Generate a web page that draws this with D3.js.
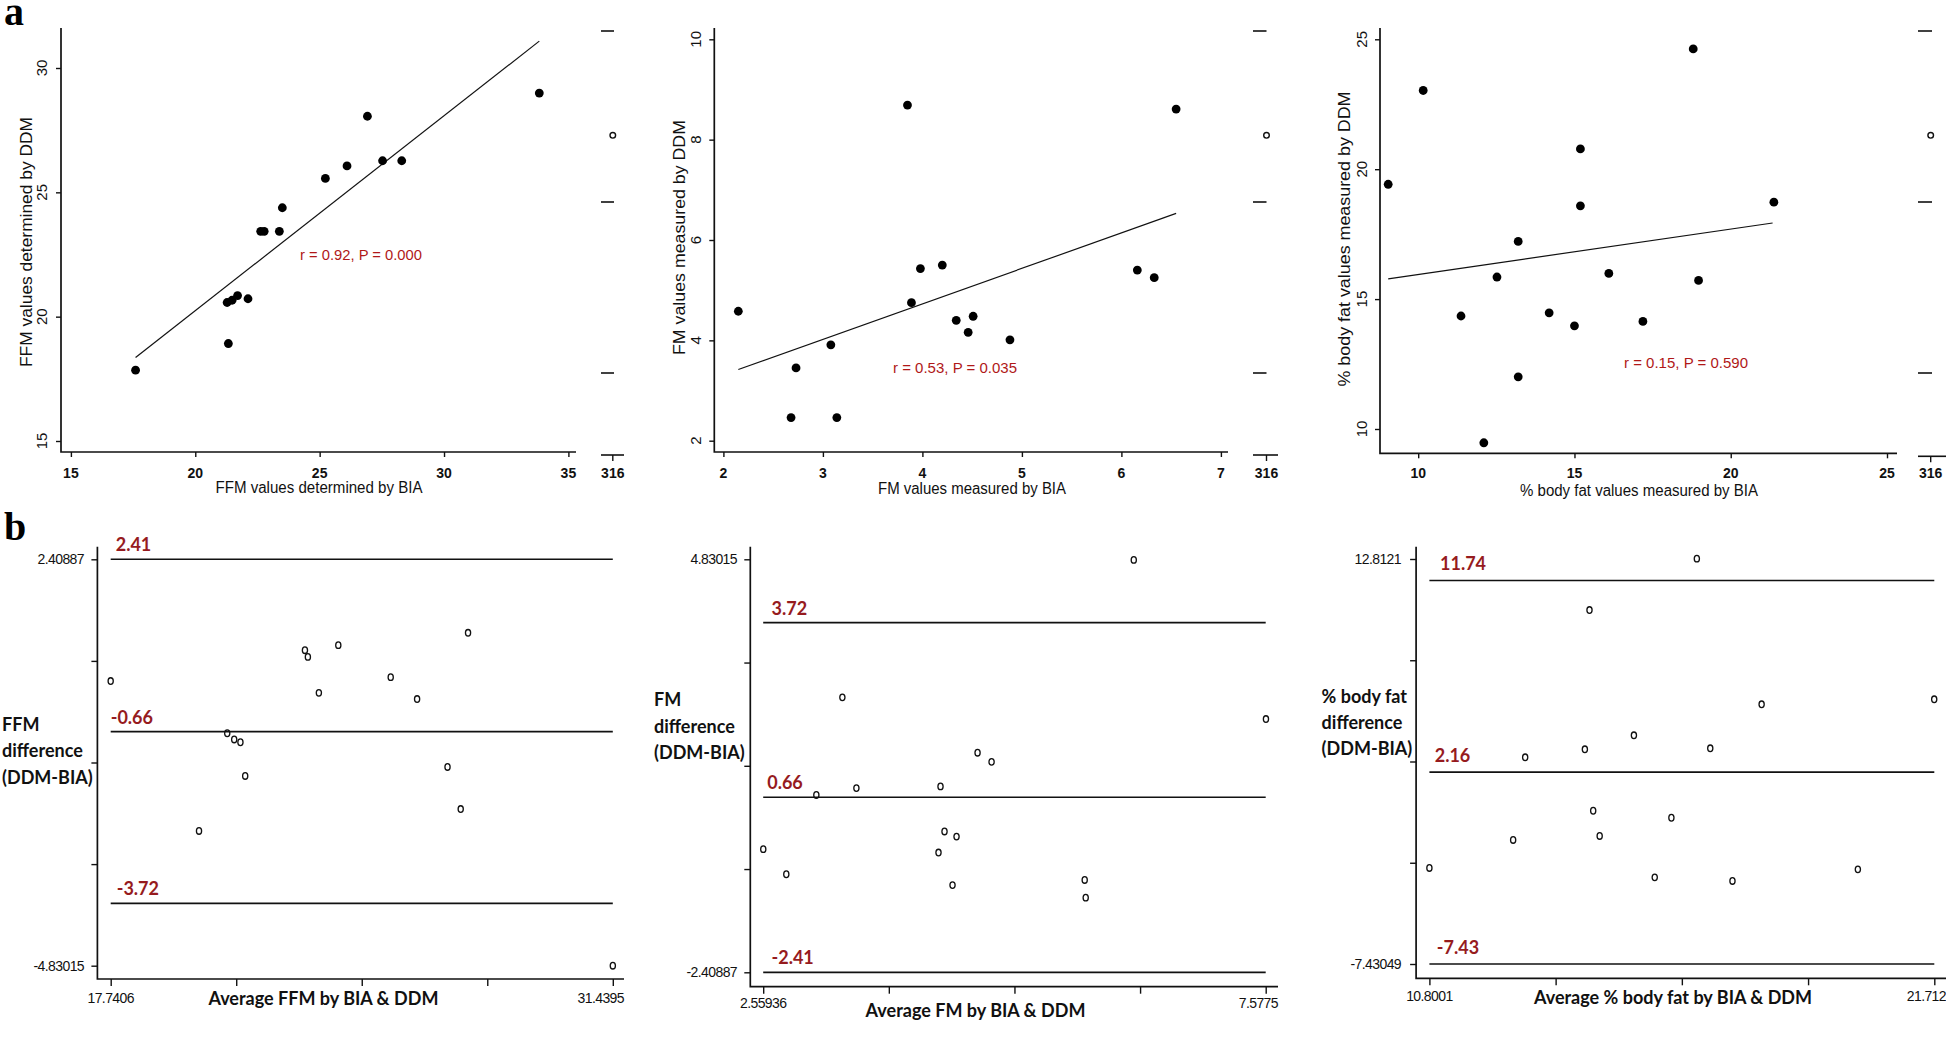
<!DOCTYPE html>
<html><head><meta charset="utf-8">
<script src="https://cdn.jsdelivr.net/npm/d3@7"></script>
<style>body{margin:0;background:#fff;} svg{display:block;}</style>
</head><body>
<svg id="chart" width="1946" height="1044"></svg>
<script>
// ---------------- DATA ----------------
// (a) correlation plots: BIA (x) vs DDM (y)
const ffmBIA = [17.6, 21.33, 21.28, 21.48, 21.7, 22.12, 22.63, 22.77, 23.38, 23.5, 25.23, 26.1, 26.92, 27.53, 28.3, 33.83];
const ffmDDM = [17.85, 18.92, 20.57, 20.66, 20.85, 20.72, 23.43, 23.43, 23.43, 24.38, 25.56, 26.06, 28.06, 26.27, 26.27, 28.99];
const ffmFit = [[17.6, 18.36], [33.83, 31.08]];
const ffmStat = "r = 0.92, P = 0.000";

const fmBIA = [2.15, 2.68, 2.73, 3.08, 3.14, 3.85, 3.89, 3.98, 4.2, 4.34, 4.46, 4.51, 4.88, 6.16, 6.33, 6.55];
const fmDDM = [4.58, 2.46, 3.45, 3.91, 2.46, 8.69, 4.75, 5.43, 5.5, 4.4, 4.16, 4.48, 4.01, 5.4, 5.25, 8.61];
const fmFit = [[2.15, 3.42], [6.55, 6.53]];
const fmStat = "r = 0.53, P = 0.035";

const bfBIA = [9.04, 10.16, 11.37, 12.1, 12.52, 13.2, 13.2, 14.19, 15.0, 15.19, 15.19, 16.1, 17.19, 18.8, 18.97, 21.38];
const bfDDM = [19.42, 23.03, 14.35, 9.47, 15.85, 17.22, 12.01, 14.47, 13.97, 20.78, 18.59, 15.99, 14.14, 24.63, 15.72, 18.73];
const bfFit = [[9.04, 15.78], [21.34, 17.93]];
const bfStat = "r = 0.15, P = 0.590";

const ffmXTicks = [15, 20, 25, 30, 35], ffmYTicks = [15, 20, 25, 30];
const fmXTicks = [2, 3, 4, 5, 6, 7], fmYTicks = [2, 4, 6, 8, 10];
const bfXTicks = [10, 15, 20, 25], bfYTicks = [10, 15, 20, 25];

// marginal strip at the right of each (a) panel
const stripTicks = [1, 2, 3];
const stripPoint = 2.39;
const stripLabel = "316";

// (b) Bland-Altman plots: average (x) vs difference DDM-BIA (y)
const ffmAvg = [17.74, 20.15, 20.92, 21.11, 21.28, 21.41, 23.04, 23.12, 23.42, 23.95, 25.38, 26.10, 26.93, 27.29, 27.49, 31.44];
const ffmDiff = [0.24, -2.43, -0.69, -0.80, -0.85, -1.45, 0.79, 0.67, 0.03, 0.88, 0.31, -0.08, -1.29, -2.04, 1.10, -4.83];
const ffmLimits = [2.41, -0.66, -3.72];
const ffmXRange = ["17.7406", "31.4395"], ffmYRange = ["2.40887", "-4.83015"];

const fmAvg = [2.56, 2.79, 3.09, 3.35, 3.49, 4.31, 4.33, 4.37, 4.45, 4.49, 4.70, 4.84, 5.77, 5.78, 6.26, 7.58];
const fmDiff = [-0.25, -0.69, 0.70, 2.41, 0.82, -0.31, 0.85, 0.06, -0.88, -0.03, 1.44, 1.28, -0.79, -1.10, 4.82, 2.03];
const fmLimits = [3.72, 0.66, -2.41];
const fmXRange = ["2.55936", "7.5775"], fmYRange = ["4.83015", "-2.40887"];

const bfAvg = [10.80, 12.61, 12.87, 14.16, 14.26, 14.34, 14.48, 15.22, 15.67, 16.03, 16.58, 16.87, 17.35, 17.98, 20.06, 21.71];
const bfDiff = [-2.63, -1.23, 2.90, 3.30, 10.26, 0.23, -1.03, 4.00, -3.10, -0.12, 12.83, 3.35, -3.28, 5.55, -2.70, 5.80];
const bfLimits = [11.74, 2.16, -7.43];
const bfXRange = ["10.8001", "21.712"], bfYRange = ["12.8121", "-7.43049"];

// ---------------- DRAWING ----------------
const svg = d3.select('#chart');
const SANS = "'Liberation Sans', Arial, sans-serif";
const CAL = "Lato, 'Open Sans', sans-serif";
const INK = "#111";

function styleAxis(s) {
  s.select('.domain').remove();
  s.selectAll('.tick line').attr('stroke', INK).attr('stroke-width', 1.4);
  s.selectAll('.tick text').remove();
}

function drawTop(c) {
  const g = svg.append('g');
  const x = d3.scaleLinear().domain([c.xTicks[0], c.xTicks[c.xTicks.length - 1]]).range(c.xPx);
  const y = d3.scaleLinear().domain([c.yTicks[0], c.yTicks[c.yTicks.length - 1]]).range(c.yPx);

  g.append('path').attr('d', `M${c.left},${c.top}V${c.bottom}H${c.right}`)
    .attr('fill', 'none').attr('stroke', INK).attr('stroke-width', 1.7);
  g.append('g').attr('transform', `translate(0,${c.bottom})`)
    .call(d3.axisBottom(x).tickValues(c.xTicks).tickSize(5)).call(styleAxis);
  g.append('g').attr('transform', `translate(${c.left},0)`)
    .call(d3.axisLeft(y).tickValues(c.yTicks).tickSize(5)).call(styleAxis);

  g.selectAll('text.xl').data(c.xTicks).join('text').attr('class', 'xl')
    .attr('x', d => x(d)).attr('y', c.xLabY)
    .attr('text-anchor', 'middle').attr('dominant-baseline', 'central')
    .style('font', `bold 14px ${SANS}`).attr('fill', INK).text(d => d);
  g.selectAll('text.yl').data(c.yTicks).join('text').attr('class', 'yl')
    .attr('transform', d => `translate(${c.yLabX},${y(d)}) rotate(-90)`)
    .attr('text-anchor', 'middle').attr('dominant-baseline', 'central')
    .style('font', `15px ${SANS}`).attr('fill', INK).text(d => d);

  g.append('text').attr('x', c.xTitle[0]).attr('y', c.xTitle[1])
    .attr('text-anchor', 'middle').attr('dominant-baseline', 'central')
    .attr('textLength', c.xTitleLen).attr('lengthAdjust', 'spacingAndGlyphs')
    .style('font', `16px ${SANS}`).attr('fill', INK).text(c.xTitleText);
  g.append('text').attr('transform', `translate(${c.yTitle[0]},${c.yTitle[1]}) rotate(-90)`)
    .attr('text-anchor', 'middle').attr('dominant-baseline', 'central')
    .attr('textLength', c.yTitleLen).attr('lengthAdjust', 'spacingAndGlyphs')
    .style('font', `16px ${SANS}`).attr('fill', INK).text(c.yTitleText);

  g.append('line')
    .attr('x1', x(c.fit[0][0])).attr('y1', y(c.fit[0][1]))
    .attr('x2', x(c.fit[1][0])).attr('y2', y(c.fit[1][1]))
    .attr('stroke', INK).attr('stroke-width', 1.2);

  g.selectAll('circle.pt').data(d3.zip(c.xs, c.ys)).join('circle').attr('class', 'pt')
    .attr('cx', d => x(d[0])).attr('cy', d => y(d[1])).attr('r', 4.4).attr('fill', '#000');

  g.append('text').attr('x', c.statPos[0]).attr('y', c.statPos[1])
    .attr('text-anchor', 'middle').attr('dominant-baseline', 'central')
    .attr('textLength', c.statLen).attr('lengthAdjust', 'spacingAndGlyphs')
    .style('font', `15px ${SANS}`).attr('fill', '#b01818').text(c.stat);

  // marginal strip
  const sy = d3.scaleLinear().domain([1, 3]).range([373, 31]);
  g.selectAll('line.st').data(stripTicks).join('line').attr('class', 'st')
    .attr('x1', c.strip[0]).attr('x2', c.strip[1])
    .attr('y1', d => sy(d)).attr('y2', d => sy(d))
    .attr('stroke', INK).attr('stroke-width', 1.6);
  g.append('line').attr('x1', c.strip[0]).attr('x2', c.strip[2])
    .attr('y1', c.bottom + 3).attr('y2', c.bottom + 3).attr('stroke', INK).attr('stroke-width', 1.6);
  g.append('line').attr('x1', c.strip[3]).attr('x2', c.strip[3])
    .attr('y1', c.bottom + 3).attr('y2', c.bottom + 9).attr('stroke', INK).attr('stroke-width', 1.4);
  g.append('text').attr('x', c.strip[3]).attr('y', c.xLabY)
    .attr('text-anchor', 'middle').attr('dominant-baseline', 'central')
    .style('font', `bold 14px ${SANS}`).attr('fill', INK).text(stripLabel);
  g.append('circle').attr('cx', c.strip[3]).attr('cy', sy(stripPoint)).attr('r', 2.8)
    .attr('fill', 'none').attr('stroke', INK).attr('stroke-width', 1.4);
}

function drawBA(c) {
  const g = svg.append('g');
  const xd = c.xRange.map(Number), yd = c.yRange.map(Number);
  const x = d3.scaleLinear().domain(xd).range(c.xPx);
  const y = d3.scaleLinear().domain(yd).range(c.yPx);
  const xt = d3.range(5).map(i => xd[0] + i * (xd[1] - xd[0]) / 4);
  const yt = d3.range(5).map(i => yd[0] + i * (yd[1] - yd[0]) / 4);

  g.append('path').attr('d', `M${c.left},${c.top}V${c.bottom}H${c.right}`)
    .attr('fill', 'none').attr('stroke', INK).attr('stroke-width', 1.7);
  g.append('g').attr('transform', `translate(0,${c.bottom})`)
    .call(d3.axisBottom(x).tickValues(xt).tickSize(7)).call(styleAxis);
  g.append('g').attr('transform', `translate(${c.left},0)`)
    .call(d3.axisLeft(y).tickValues(yt).tickSize(6)).call(styleAxis);

  // axis end labels
  g.selectAll('text.yl').data(c.yRange).join('text').attr('class', 'yl')
    .attr('x', c.yLabRight).attr('y', d => y(+d))
    .attr('text-anchor', 'end').attr('dominant-baseline', 'central')
    .style('font', `14px ${SANS}`).style('letter-spacing', '-0.6px').attr('fill', INK).text(d => d);
  g.append('text').attr('x', x(xd[0])).attr('y', c.xLabY)
    .attr('text-anchor', 'middle').attr('dominant-baseline', 'central')
    .style('font', `14px ${SANS}`).style('letter-spacing', '-0.6px').attr('fill', INK).text(c.xRange[0]);
  g.append('text').attr('x', c.right).attr('y', c.xLabY)
    .attr('text-anchor', 'end').attr('dominant-baseline', 'central')
    .style('font', `14px ${SANS}`).style('letter-spacing', '-0.6px').attr('fill', INK).text(c.xRange[1]);

  // limit lines
  g.selectAll('line.lim').data(c.limits).join('line').attr('class', 'lim')
    .attr('x1', x(xd[0])).attr('x2', x(xd[1]))
    .attr('y1', d => y(d)).attr('y2', d => y(d))
    .attr('stroke', INK).attr('stroke-width', 1.6);
  g.selectAll('text.lim').data(c.limits).join('text').attr('class', 'lim')
    .attr('x', (d, i) => x(xd[0]) + c.limDx[i]).attr('y', d => y(d) + c.limDy)
    .attr('dominant-baseline', 'central')
    .style('font', `bold 18px ${CAL}`).attr('fill', '#961b1e').text(d => d.toFixed(2));

  // points
  g.selectAll('ellipse.pt').data(d3.zip(c.xs, c.ys)).join('ellipse').attr('class', 'pt')
    .attr('cx', d => x(d[0])).attr('cy', d => y(d[1])).attr('rx', 2.6).attr('ry', 3.3)
    .attr('fill', 'none').attr('stroke', INK).attr('stroke-width', 1.3);

  // titles
  g.append('text').attr('x', c.xTitle[0]).attr('y', c.xTitle[1])
    .attr('text-anchor', 'middle').attr('dominant-baseline', 'central')
    .style('font', `bold 18px ${CAL}`).attr('fill', INK).text(c.xTitleText);
  g.selectAll('text.yt').data(c.yTitleLines).join('text').attr('class', 'yt')
    .attr('x', c.yTitleX).attr('y', (d, i) => c.yTitleYs[i])
    .attr('dominant-baseline', 'central')
    .style('font', `bold 18px ${CAL}`).attr('fill', INK).text(d => d);
}

// panel letters
svg.append('text').attr('x', 4).attr('y', 25).style('font', "bold 40px 'Liberation Serif', 'DejaVu Serif', serif").text('a');
svg.append('text').attr('x', 4).attr('y', 540).style('font', "bold 40px 'Liberation Serif', 'DejaVu Serif', serif").text('b');

drawTop({
  xs: ffmBIA, ys: ffmDDM, fit: ffmFit, stat: ffmStat, xTicks: ffmXTicks, yTicks: ffmYTicks,
  xPx: [70.9, 568.4], yPx: [441, 68], left: 61, right: 576, top: 28, bottom: 452,
  xLabY: 473, yLabX: 41.5, xTitle: [319, 487], xTitleLen: 207, xTitleText: 'FFM values determined by BIA',
  yTitle: [26, 242], yTitleLen: 250, yTitleText: 'FFM values determined by DDM',
  statPos: [361, 254], statLen: 122, strip: [601, 614, 624, 612.8]
});
drawTop({
  xs: fmBIA, ys: fmDDM, fit: fmFit, stat: fmStat, xTicks: fmXTicks, yTicks: fmYTicks,
  xPx: [723.4, 1220.9], yPx: [440.7, 39.3], left: 714.3, right: 1228, top: 28, bottom: 452,
  xLabY: 473, yLabX: 695.6, xTitle: [972, 488], xTitleLen: 188, xTitleText: 'FM values measured by BIA',
  yTitle: [679, 237.5], yTitleLen: 235, yTitleText: 'FM values measured by DDM',
  statPos: [955, 367], statLen: 124, strip: [1253, 1266.5, 1278, 1266.5]
});
drawTop({
  xs: bfBIA, ys: bfDDM, fit: bfFit, stat: bfStat, xTicks: bfXTicks, yTicks: bfYTicks,
  xPx: [1418.2, 1887], yPx: [429, 39.3], left: 1380, right: 1897, top: 28, bottom: 453.3,
  xLabY: 473, yLabX: 1361, xTitle: [1639, 490], xTitleLen: 238, xTitleText: '% body fat values measured by BIA',
  yTitle: [1344.5, 239], yTitleLen: 295, yTitleText: '% body fat values measured by DDM',
  statPos: [1686, 362], statLen: 124, strip: [1918, 1932, 1946, 1930.7]
});

drawBA({
  xs: ffmAvg, ys: ffmDiff, limits: ffmLimits, xRange: ffmXRange, yRange: ffmYRange,
  xPx: [110.7, 612.8], yPx: [559.3, 965.7], left: 97.4, right: 624, top: 546.7, bottom: 979,
  yLabRight: 84, xLabY: 998, xTitle: [323.4, 998], xTitleText: 'Average FFM by BIA & DDM',
  yTitleX: 2, yTitleYs: [724, 750, 776.7], yTitleLines: ['FFM', 'difference', '(DDM-BIA)'],
  limDx: [5, 0, 6], limDy: -15
});
drawBA({
  xs: fmAvg, ys: fmDiff, limits: fmLimits, xRange: fmXRange, yRange: fmYRange,
  xPx: [763.2, 1265.7], yPx: [559.3, 972.3], left: 750.3, right: 1278, top: 546.7, bottom: 986.7,
  yLabRight: 737, xLabY: 1003.3, xTitle: [975.5, 1010], xTitleText: 'Average FM by BIA & DDM',
  yTitleX: 654, yTitleYs: [699, 725.7, 752.3], yTitleLines: ['FM', 'difference', '(DDM-BIA)'],
  limDx: [8.3, 4, 8.3], limDy: -15
});
drawBA({
  xs: bfAvg, ys: bfDiff, limits: bfLimits, xRange: bfXRange, yRange: bfYRange,
  xPx: [1429.4, 1934.3], yPx: [559, 964], left: 1416.1, right: 1946, top: 546.7, bottom: 978.3,
  yLabRight: 1401, xLabY: 995.7, xTitle: [1673, 996.7], xTitleText: 'Average % body fat by BIA & DDM',
  yTitleX: 1321.6, yTitleYs: [695.7, 721.7, 748.3], yTitleLines: ['% body fat', 'difference', '(DDM-BIA)'],
  limDx: [10.6, 5.3, 7.4], limDy: -17
});
</script>
</body></html>
